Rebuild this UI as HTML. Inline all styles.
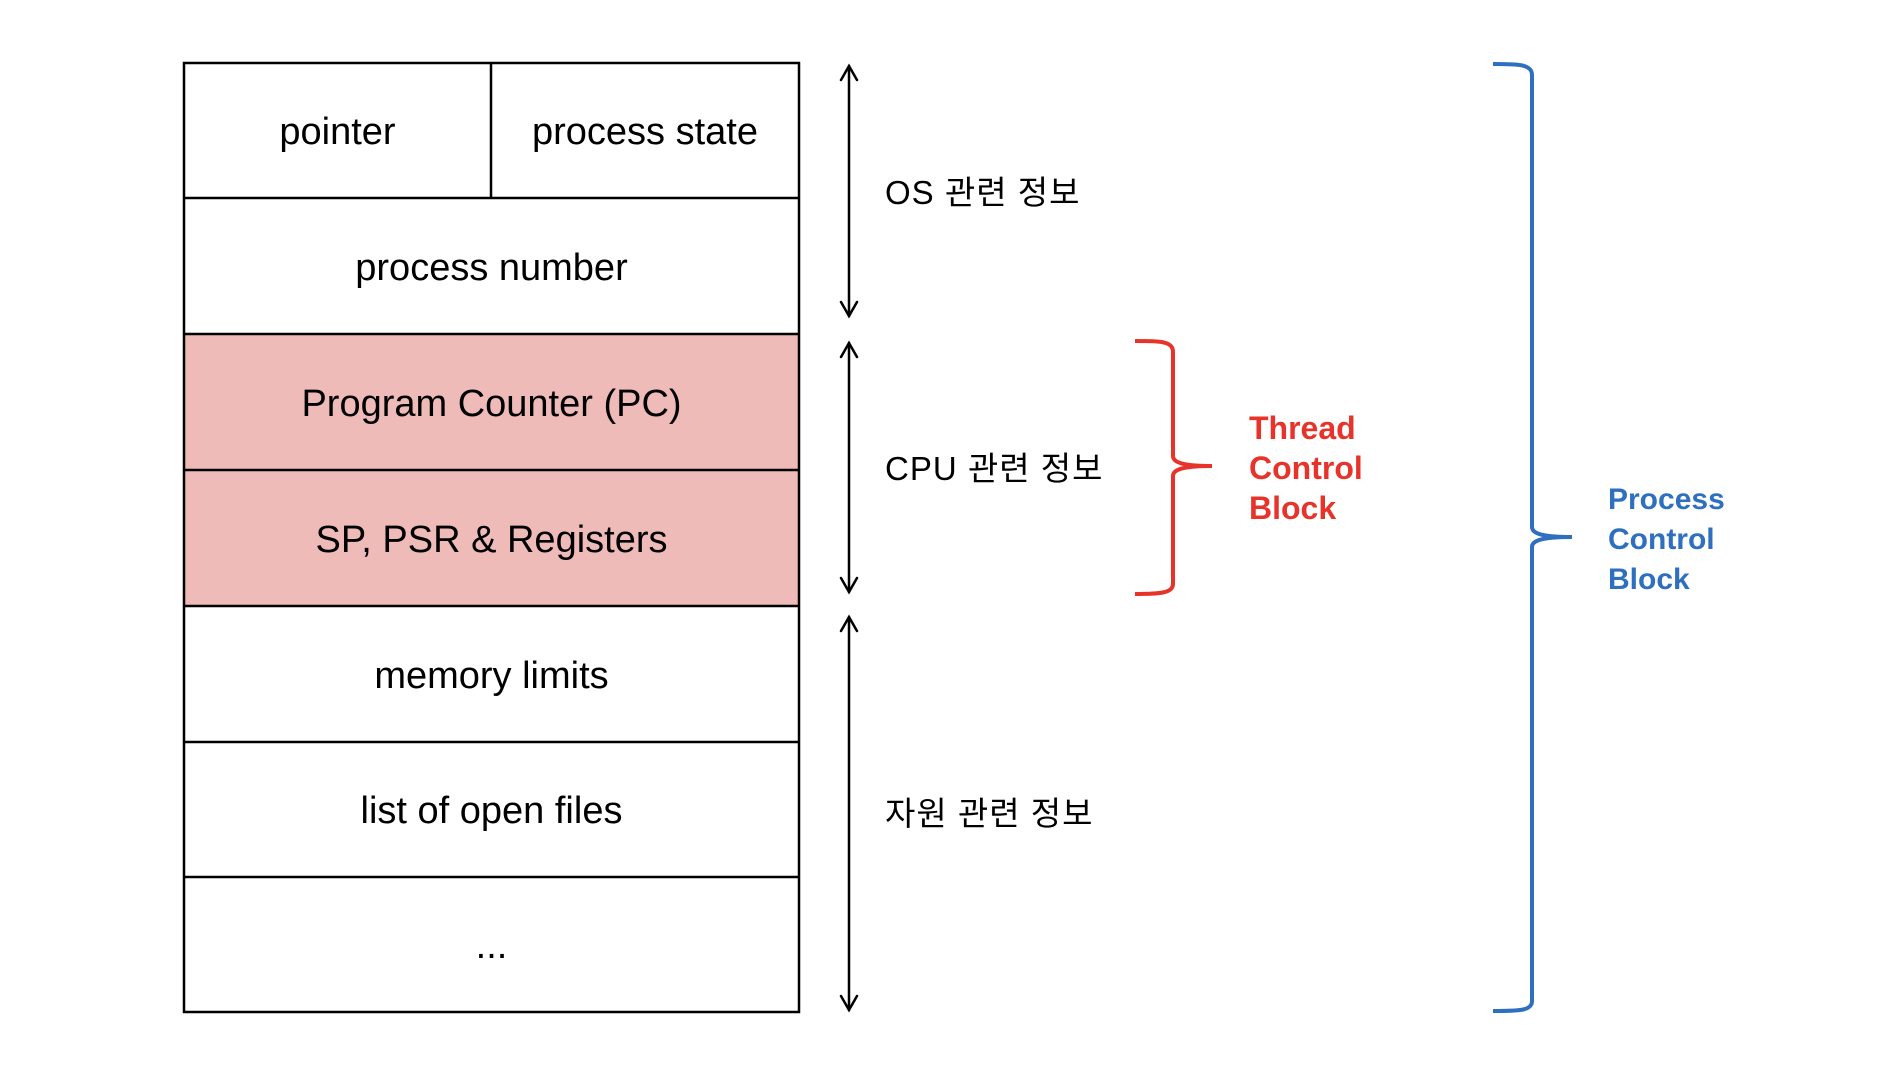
<!DOCTYPE html>
<html><head><meta charset="utf-8"><style>
html,body{margin:0;padding:0;background:#fff;}
body{width:1902px;height:1068px;position:relative;overflow:hidden;font-family:"Liberation Sans","Noto Sans CJK KR",sans-serif;}
.c{position:absolute;display:flex;align-items:center;justify-content:center;font-size:38px;color:#000;padding-top:4px;box-sizing:border-box;}
.k{position:absolute;font-size:33px;letter-spacing:1px;transform:translateY(-50%);}
.t{position:absolute;font-weight:bold;font-size:32px;line-height:40px;}
</style></head><body>
<svg width="1902" height="1068" style="position:absolute;left:0;top:0">
<rect x="184" y="334" width="615" height="272" fill="#efbbb9"/>
<g stroke="#000" stroke-width="2.5" fill="none">
<rect x="184" y="63" width="615" height="949"/>
<line x1="184" y1="198" x2="799" y2="198"/>
<line x1="184" y1="334" x2="799" y2="334"/>
<line x1="184" y1="470" x2="799" y2="470"/>
<line x1="184" y1="606" x2="799" y2="606"/>
<line x1="184" y1="742" x2="799" y2="742"/>
<line x1="184" y1="877" x2="799" y2="877"/>
<line x1="491" y1="63" x2="491" y2="198"/>
</g>
<g stroke="#000" stroke-width="2.5" fill="none" stroke-linecap="round">
<line x1="849" y1="66" x2="849" y2="316"/><polyline points="841,80 849,66 857,80"/><polyline points="841,302 849,316 857,302"/>
<line x1="849" y1="343" x2="849" y2="592"/><polyline points="841,357 849,343 857,357"/><polyline points="841,578 849,592 857,578"/>
<line x1="849" y1="617" x2="849" y2="1010"/><polyline points="841,631 849,617 857,631"/><polyline points="841,996 849,1010 857,996"/>
</g>
<path d="M1135,341 C1160,341 1173,341 1173,352 L1173,456 C1173,463 1185,466 1212,466 C1185,466 1173,469 1173,476 L1173,584 C1173,593 1160,594 1135,594" stroke="#e8332a" stroke-width="4" fill="none"/>
<path d="M1493,64 C1518,64 1532,64 1532,75 L1532,527 C1532,534 1544,537 1572,537 C1544,537 1532,540 1532,547 L1532,1001 C1532,1011 1518,1011 1493,1011" stroke="#2f6fc0" stroke-width="4" fill="none"/>
</svg>
<div class="c" style="left:184px;top:63px;width:307px;height:135px">pointer</div>
<div class="c" style="left:491px;top:63px;width:308px;height:135px">process state</div>
<div class="c" style="left:184px;top:198px;width:615px;height:136px">process number</div>
<div class="c" style="left:184px;top:334px;width:615px;height:136px">Program Counter (PC)</div>
<div class="c" style="left:184px;top:470px;width:615px;height:136px">SP, PSR &amp; Registers</div>
<div class="c" style="left:184px;top:606px;width:615px;height:136px">memory limits</div>
<div class="c" style="left:184px;top:742px;width:615px;height:135px">list of open files</div>
<div class="c" style="left:184px;top:877px;width:615px;height:135px">...</div>
<div class="k" style="left:885px;top:190px">OS 관련 정보</div>
<div class="k" style="left:885px;top:466px">CPU 관련 정보</div>
<div class="k" style="left:885px;top:811px">자원 관련 정보</div>
<div class="t" style="left:1249px;top:408px;color:#e8332a">Thread<br>Control<br>Block</div>
<div class="t" style="left:1608px;top:480px;color:#2f6fc0;font-size:30px">Process<br>Control<br>Block</div>
</body></html>
